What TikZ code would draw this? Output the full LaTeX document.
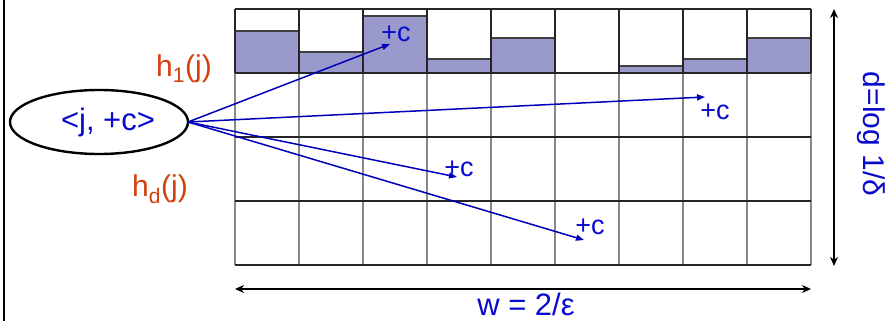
\documentclass[tikz,border=0pt]{standalone}
\usepackage{fontspec}
\setmainfont{Liberation Sans}
\usetikzlibrary{arrows.meta,shapes.geometric}
\definecolor{barfill}{HTML}{9999CC}
\definecolor{hred}{HTML}{D2400A}
\definecolor{tblue}{HTML}{0A0ACC}
\definecolor{ablue}{HTML}{0000BB}
\definecolor{gridgray}{HTML}{888888}
\tikzset{
  bar/.style={fill=barfill, draw=black!75, line width=1.2pt},
  gline/.style={draw=gridgray, line width=1.3pt},
  kline/.style={draw=black!85, line width=1.2pt},
  hlabel/.style={text=hred, font=\fontsize{30}{33}\selectfont, inner sep=0pt},
  clabel/.style={text=tblue, font=\fontsize{27}{30}\selectfont, inner sep=0pt},
  harrow/.style={draw=ablue, line width=1.5pt, -{Triangle[length=8pt,width=6pt]}},
  dimarrow/.style={draw=black, line width=2.3pt, {Stealth[length=9pt,width=8pt]}-{Stealth[length=9pt,width=8pt]}}
}
\begin{document}
\begin{tikzpicture}[x=1pt,y=-1pt]
\useasboundingbox (0,0) rectangle (887,321);
% left border line
\draw[line width=2pt] (4,0) -- (4,321);
% bars in first row
\fill[white] (235,9) rectangle (811,73);
\draw[bar] (235,73) rectangle (299,31);
\draw[bar] (299,73) rectangle (363,52);
\draw[bar] (363,73) rectangle (427,16);
\draw[bar] (427,73) rectangle (491,59);
\draw[bar] (491,73) rectangle (555,38);
\draw[bar] (619,73) rectangle (683,66);
\draw[bar] (683,73) rectangle (747,59);
\draw[bar] (747,73) rectangle (811,38);
% grid: lower rows
\foreach \x in {235,299,363,427,491,555,619,683,747,811}
  \draw[gline] (\x,73) -- (\x,265);
\draw[kline] (235,137) -- (811,137);
\draw[kline] (235,201) -- (811,201);
\draw[kline] (235,265) -- (811,265);
% grid: first row
\foreach \x in {235,299,363,427,491,555,619,683,747,811}
  \draw[kline] (\x,9) -- (\x,73);
\draw[kline] (235,9) -- (811,9);
\draw[kline] (235,73) -- (811,73);
% source ellipse
\node[draw=black, line width=2.4pt, ellipse, minimum width=178pt, minimum height=64pt, inner sep=0pt] (src) at (99,122) {};
\node[clabel, font=\fontsize{31}{34}\selectfont] (srctext) at (108,122) {<j, +c>};
% hash labels
\node[hlabel] (h1) at (184,69) {h\textsubscript{1}(j)};
\node[hlabel] (hd) at (160,189) {h\textsubscript{d}(j)};
% arrow targets
\coordinate (t1) at (390,44);
\coordinate (t2) at (705,97);
\coordinate (t3) at (457,177);
\coordinate (t4) at (584,240);
\coordinate (s) at (188,122);
\draw[harrow] (s) -- (t1);
\draw[harrow] (s) -- (t2);
\draw[harrow] (s) -- (t3);
\draw[harrow] (s) -- (t4);
\node[clabel] (c1) at (396,34) {+c};
\node[clabel] (c2) at (715,112) {+c};
\node[clabel] (c3) at (459,169) {+c};
\node[clabel] (c4) at (590,227) {+c};
% dimensions
\coordinate (wl) at (235,289);
\coordinate (wr) at (811,289);
\draw[dimarrow] (wl) -- (wr);
\node[clabel, font=\fontsize{31}{34}\selectfont] (wlab) at (526,304) {w = 2/ε};
\coordinate (dt) at (834,9);
\coordinate (db) at (834,266);
\draw[dimarrow, line width=2pt] (dt) -- (db);
\node[clabel, font=\fontsize{30}{33}\selectfont, rotate=-90] (dlab) at (871,134) {d=log 1/δ};
\end{tikzpicture}
\end{document}
